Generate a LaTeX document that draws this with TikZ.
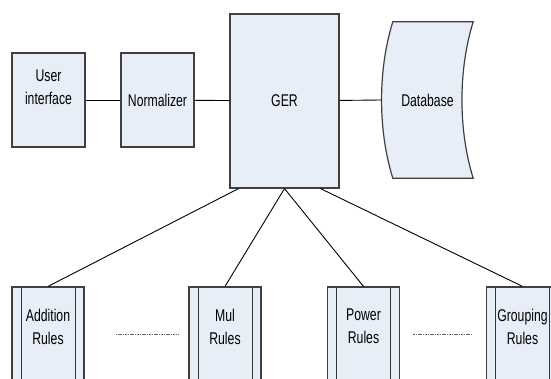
\documentclass[tikz,border=0pt]{standalone}
\usepackage{fontspec}
\setmainfont{Liberation Sans}[FakeStretch=0.72]
\usetikzlibrary{calc}
\definecolor{boxfill}{RGB}{232,238,247}

\begin{document}
\begin{tikzpicture}[x=1pt,y=-1pt,
    blk/.style={draw=black!75,line width=1.2pt,fill=boxfill,inner sep=0pt},
    lbl/.style={inner sep=0pt,align=center,font=\fontsize{17}{23}\selectfont},
    rulebox/.style={blk,minimum width=72pt,minimum height=95pt,
      path picture={
        \draw[black!80,line width=1pt]
          ([xshift=9pt]path picture bounding box.north west) --
          ([xshift=9pt]path picture bounding box.south west)
          ([xshift=-9pt]path picture bounding box.north east) --
          ([xshift=-9pt]path picture bounding box.south east);}},
    link/.style={draw=black,line width=0.9pt},
    gap/.style={draw=black!60,line width=0.8pt,dash pattern=on 1.6pt off 0.8pt}]
  \clip (0,0) rectangle (551,379);
  \fill[white] (0,0) rectangle (551,379);

  \node[blk,minimum width=73pt,minimum height=94pt] (ui) at (48.5,100) {};
  \node[lbl] (uitext) at ([yshift=13pt]ui) {User\\interface};
  \node[blk,lbl,minimum width=73pt,minimum height=94pt] (norm) at (157.5,100) {Normalizer};
  \node[blk,lbl,minimum width=109pt,minimum height=174pt] (ger) at (284.5,101) {GER};

  % database, curved sides
  \node[inner sep=0pt,minimum width=91pt,minimum height=156pt] (db) at (427.5,100) {};
  \draw[blk] ([xshift=11pt]db.north west)
    .. controls ($(db.north west)+(-4,48)$) and ($(db.south west)+(-4,-48)$) ..
    ([xshift=11pt]db.south west) -- (db.south east)
    .. controls ($(db.south east)+(-15,-48)$) and ($(db.north east)+(-15,48)$) ..
    (db.north east) -- cycle;
  \node[lbl] (dbtext) at (db) {Database};

  % rule boxes run off the bottom edge
  \node[rulebox] (add) at (48,334.5) {};
  \node[rulebox] (mul) at (225,334.5) {};
  \node[rulebox] (pow) at (363.5,334.5) {};
  \node[rulebox] (grp) at (522.5,334.5) {};
  \node[lbl] (addtext) at ([yshift=8pt]add) {Addition\\Rules};
  \node[lbl] (multext) at ([yshift=8pt]mul) {Mul\\Rules};
  \node[lbl] (powtext) at ([yshift=8pt]pow) {Power\\Rules};
  \node[lbl] (grptext) at ([yshift=8pt]grp) {Grouping\\Rules};

  \draw[link] (ui) -- (norm);
  \draw[link] (norm) -- (ger);
  \draw[link] (ger) -- (db.west);
  \draw[link] ([xshift=-46pt]ger.south) -- (add.north);
  \draw[link] (ger.south) -- (mul.north);
  \draw[link] (ger.south) -- (pow.north);
  \draw[link] ([xshift=36pt]ger.south) -- (grp.north);

  \draw[gap] ([xshift=31pt]add.east) -- ([xshift=-10pt]mul.west);
  \draw[gap] ([xshift=13pt]pow.east) -- ([xshift=-14pt]grp.west);
\end{tikzpicture}
\end{document}
